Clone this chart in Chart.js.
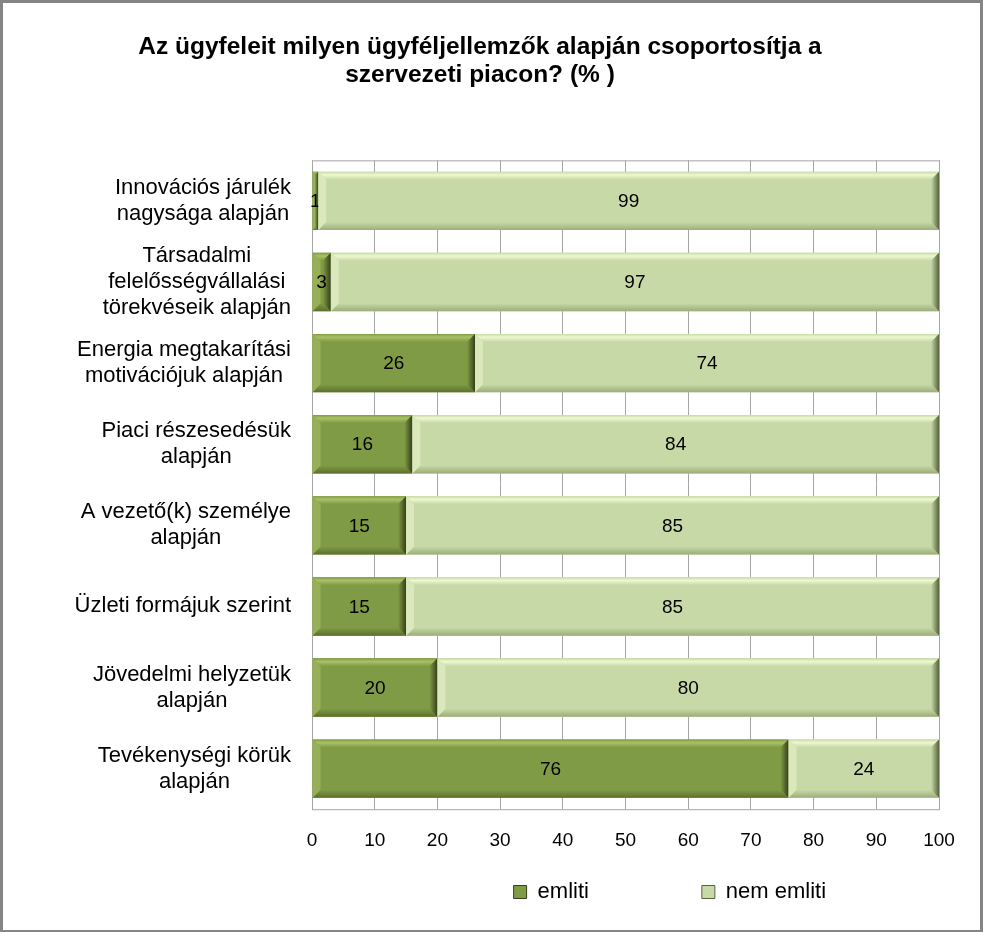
<!DOCTYPE html>
<html>
<head>
<meta charset="utf-8">
<script src="https://cdn.jsdelivr.net/npm/chart.js@4.4.0/dist/chart.umd.min.js"></script>
<style>
  html, body { margin: 0; padding: 0; background: #fff; }
  #frame {
    width: 983px; height: 932px; box-sizing: border-box;
    border: 3px solid #858585; border-bottom-width: 2px;
  }
  #frame canvas { display: block; }
</style>
</head>
<body>
<div id="frame"><canvas id="barchart" width="977" height="927"></canvas></div>
<script>
const categories = [
    ['Innovációs járulék', 'nagysága alapján'],
    ['Társadalmi', 'felelősségvállalási', 'törekvéseik alapján'],
    ['Energia megtakarítási', 'motivációjuk alapján'],
    ['Piaci részesedésük', 'alapján'],
    ['A vezető(k) személye', 'alapján'],
    'Üzleti formájuk szerint',
    ['Jövedelmi helyzetük', 'alapján'],
    ['Tevékenységi körük', 'alapján']
]
const emliti = [1, 3, 26, 16, 15, 15, 20, 76]
const nem_emliti = [99, 97, 74, 84, 85, 85, 80, 24]
const x_ticks = [0, 10, 20, 30, 40, 50, 60, 70, 80, 90, 100]

const font_family = '"Liberation Sans", Arial, sans-serif'
const y_font_size = 22

// colours for the bevelled bar look
const shades = [
    { face: '#809b45', top: '#aac265', bottom: '#5c702e', left: '#97b058', right: '#34401a' },
    { face: '#c7d9a6', top: '#eef8d0', bottom: '#9cad7a', left: '#dae8bc', right: '#56633d' }
]

function poly(ctx, pts, fill) {
    ctx.beginPath()
    ctx.moveTo(pts[0][0], pts[0][1])
    for (let i = 1; i < pts.length; i++) ctx.lineTo(pts[i][0], pts[i][1])
    ctx.closePath()
    ctx.fillStyle = fill
    ctx.fill()
}

const bevel_plugin = {
    id: 'bevel',
    beforeDatasetsDraw(chart) {
        const a = chart.chartArea
        const ctx = chart.ctx
        ctx.save()
        ctx.strokeStyle = '#a6a6a6'
        ctx.lineWidth = 1
        ctx.strokeRect(a.left + 0.5, a.top + 0.5, a.right - a.left, a.bottom - a.top)
        ctx.restore()
    },
    afterDatasetsDraw(chart) {
        const ctx = chart.ctx
        ctx.save()
        chart.data.datasets.forEach((ds, di) => {
            const c = shades[di]
            chart.getDatasetMeta(di).data.forEach((bar, i) => {
                const p = bar.getProps(['x', 'y', 'base', 'height'], true)
                const l = Math.min(p.base, p.x), r = Math.max(p.base, p.x)
                const t = p.y - p.height / 2, b = p.y + p.height / 2
                const s = Math.min(8, (r - l) / 2)
                let g = ctx.createLinearGradient(0, t, 0, t + s)
                g.addColorStop(0, c.face); g.addColorStop(0.4, c.top); g.addColorStop(1, c.face)
                poly(ctx, [[l, t], [r, t], [r - s, t + s], [l + s, t + s]], g)
                g = ctx.createLinearGradient(0, b - s, 0, b)
                g.addColorStop(0, c.face); g.addColorStop(1, c.bottom)
                poly(ctx, [[l, b], [r, b], [r - s, b - s], [l + s, b - s]], g)
                poly(ctx, [[l, t], [l + s, t + s], [l + s, b - s], [l, b]], c.left)
                g = ctx.createLinearGradient(r - s, 0, r, 0)
                g.addColorStop(0, c.face); g.addColorStop(1, c.right)
                poly(ctx, [[r, t], [r - s, t + s], [r - s, b - s], [r, b]], g)

                // value label in the middle of the segment
                ctx.fillStyle = '#000'
                ctx.font = '19px ' + font_family
                ctx.textAlign = 'center'
                ctx.textBaseline = 'middle'
                ctx.fillText(String(ds.data[i]), (l + r) / 2, p.y + 1)
            })
        })
        ctx.restore()
    }
}

// the legend items sit right of centre with a wide gap between them
const legend_pad = ['                 ', '                 ']

new Chart(
    document.getElementById('barchart'),
    {
        type: 'bar',
        data: {
            labels: categories,
            datasets: [
                {
                    label: 'emliti',
                    data: emliti,
                    backgroundColor: shades[0].face,
                    categoryPercentage: 0.72,
                    barPercentage: 1
                },
                {
                    label: 'nem emliti',
                    data: nem_emliti,
                    backgroundColor: shades[1].face,
                    categoryPercentage: 0.72,
                    barPercentage: 1
                }
            ]
        },
        options: {
            indexAxis: 'y',
            responsive: false,
            animation: false,
            layout: {
                padding: { left: 18, right: 41, top: 0, bottom: 17 }
            },
            plugins: {
                title: {
                    display: true,
                    text: ['Az ügyfeleit milyen ügyféljellemzők alapján csoportosítja a', 'szervezeti piacon? (% )'],
                    color: '#000',
                    font: { family: font_family, size: 24.5, weight: 'bold', lineHeight: 1.15 },
                    padding: { top: 30, bottom: 71 }
                },
                legend: {
                    position: 'bottom',
                    align: 'end',
                    labels: {
                        color: '#000',
                        font: { family: font_family, size: 22 },
                        boxWidth: 13,
                        boxHeight: 13,
                        padding: 9,
                        generateLabels(chart) {
                            return chart.data.datasets.map((ds, i) => ({
                                text: ds.label + legend_pad[i],
                                fillStyle: shades[i].face,
                                strokeStyle: shades[i].right,
                                lineWidth: 1,
                                datasetIndex: i
                            }))
                        }
                    }
                },
                tooltip: { enabled: false }
            },
            scales: {
                x: {
                    stacked: true,
                    min: 0,
                    max: 100,
                    afterBuildTicks(scale) {
                        scale.ticks = x_ticks.map(v => ({ value: v }))
                    },
                    grid: { color: '#a6a6a6', drawTicks: false },
                    border: { display: false },
                    ticks: {
                        color: '#000',
                        padding: 20,
                        font: { family: font_family, size: 19 }
                    }
                },
                y: {
                    stacked: true,
                    grid: { display: false },
                    border: { display: false },
                    afterFit(scale) { scale.width = 291 },
                    afterUpdate(scale) {
                        // each label: lines centred on each other, block right-aligned to the axis
                        if (scale._own_align) return
                        scale._own_align = true
                        const orig = scale._computeLabelItems
                        scale._computeLabelItems = function (area) {
                            const items = orig.call(this, area)
                            const ctx = this.ctx
                            ctx.save()
                            ctx.font = y_font_size + 'px ' + font_family
                            const right_edge = this.right - 21
                            items.forEach(it => {
                                const lines = Array.isArray(it.label) ? it.label : [it.label]
                                const w = Math.max(...lines.map(s => ctx.measureText(s).width))
                                it.options.translation[0] = right_edge - w / 2
                                it.options.textAlign = 'center'
                            })
                            ctx.restore()
                            return items
                        }
                    },
                    ticks: {
                        color: '#000',
                        crossAlign: 'center',
                        padding: 15,
                        font: { family: font_family, size: y_font_size, lineHeight: 1.18 }
                    }
                }
            }
        },
        plugins: [bevel_plugin]
    }
);
</script>
</body>
</html>
